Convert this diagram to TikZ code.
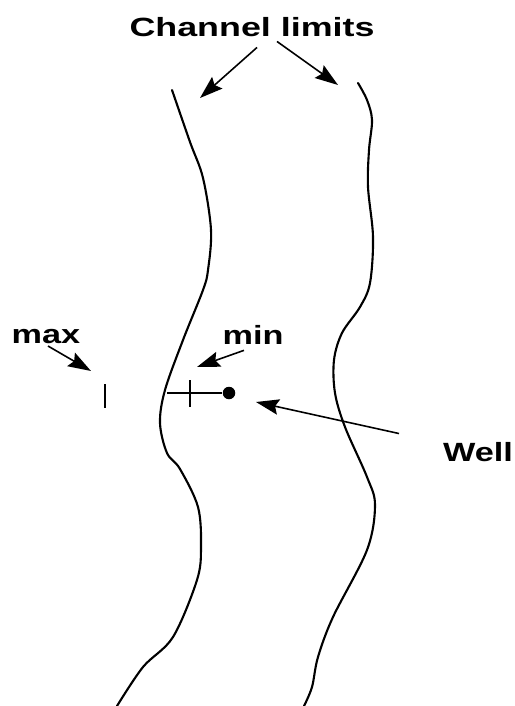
\documentclass[tikz,border=0pt]{standalone}
\usepackage{fontspec}
\setmainfont{Liberation Sans}
\usepackage{tikz}
\usetikzlibrary{arrows.meta}

\tikzset{
    lbl/.style={inner sep=0pt, font=\fontsize{15}{15}\selectfont\bfseries},
    wellpt/.style={circle, fill=black, inner sep=0pt, minimum size=0.25cm},
    limitline/.style={line width=1.2pt, line cap=round},
}
\newcommand{\widetext}[2][1.3]{\scalebox{#1}[1]{#2}}

\begin{document}
\begin{tikzpicture}[>={Stealth[length=0.46cm, width=0.31cm, inset=0.07cm]}, x=0.02cm, y=-0.02cm, line width=0.9pt]
    \useasboundingbox (0,0) rectangle (514,706);

    % Labels
    \node[lbl] (limits) at (252,27) {\widetext[1.36]{Channel limits}};
    \node[lbl] (maxlbl) at (46,337) {\widetext{max}};
    \node[lbl] (minlbl) at (253,335) {\widetext{min}};
    \node[lbl] (welllbl) at (478,452) {\widetext{Well}};

    % Channel limits
    \draw[limitline] plot[smooth, tension=0.55] coordinates {
        (172,90) (190,142) (203,178) (211,230) (208,270) (203,290) (183,340)
        (165,390) (160,423) (167,453) (180,469) (198,507) (201,547) (197,580)
        (173,637) (143,667) (117,706)};
    \draw[limitline] plot[smooth, tension=0.55] coordinates {
        (358,83) (367,100) (372,120) (369,150) (368,187) (373,237) (370,283)
        (360,307) (342,333) (334,360) (335,393) (345,427) (367,477) (375,505)
        (367,550) (333,617) (318,657) (312,687) (304,706)};

    % Well and the distances
    \node[wellpt] (well) at (229,393) {};
    \coordinate (edge) at (167,393);
    \draw (edge) -- (well);
    \coordinate (mintop) at (190,380);
    \coordinate (minbot) at (190,407);
    \draw[line width=1.1pt] (mintop) -- (minbot);
    \coordinate (maxtop) at (105,384);
    \coordinate (maxbot) at (105,408);
    \draw[line width=1.1pt] (maxtop) -- (maxbot);

    % Arrows
    \coordinate (leftend) at (200,98);
    \coordinate (rightend) at (338,85);
    \coordinate (maxend) at (91,371);
    \coordinate (minend) at (197,367);
    \coordinate (wellend) at (256,402);
    \draw[->] ([xshift=0.1cm, yshift=-0.2cm]limits.south) -- (leftend);
    \draw[->] ([xshift=0.5cm, yshift=-0.08cm]limits.south) -- (rightend);
    \draw[->] ([xshift=0.04cm, yshift=-0.02cm]maxlbl.south) -- (maxend);
    \draw[->] ([xshift=-0.18cm, yshift=-0.1cm]minlbl.south) -- (minend);
    \draw[->] ([xshift=-1.58cm, yshift=0.16cm]welllbl.north) -- (wellend);
\end{tikzpicture}
\end{document}
